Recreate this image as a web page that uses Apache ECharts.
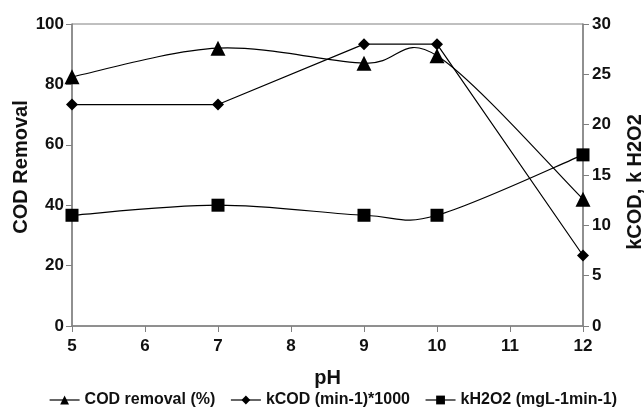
<!DOCTYPE html>
<html><head><meta charset="utf-8">
<script src="https://cdn.jsdelivr.net/npm/echarts@6/dist/echarts.min.js"></script>
<style>html,body{margin:0;padding:0;background:#fff}#c{width:644px;height:417px}</style>
</head><body><div id="c"></div>
<script>
const pH = [5, 7, 9, 10, 12];
const codRemoval = [82.5, 92, 87, 89.5, 42];
const kCOD = [22, 22, 28, 28, 7];
const kH2O2 = [11, 12, 11, 11, 17];
const xTicks = [5, 6, 7, 8, 9, 10, 11, 12];
const seriesNames = ['COD removal (%)', 'kCOD (min-1)*1000', 'kH2O2 (mgL-1min-1)'];

const FONT = 'Liberation Sans';
const pair = (ys) => pH.map((x, i) => [x, ys[i]]);
const axisCol = '#808080';
const lbl = {fontFamily: FONT, fontWeight: 'bold', fontSize: 17, color: '#111'};
const nm = {fontFamily: FONT, fontWeight: 'bold', fontSize: 20, color: '#111'};
const lineCol = '#000';

// Excel-like Catmull-Rom smoothed curve through the data points, in pixel space via api.coord
function smoothCurve(ys, yAxisIndex) {
  return {
    type: 'custom', yAxisIndex: yAxisIndex, data: pair(ys), z: 1, silent: true,
    renderItem: function (params, api) {
      if (params.dataIndex !== 0) return null;
      const P = pH.map((x, i) => api.coord([x, ys[i]]));
      const n = P.length;
      let d = 'M' + P[0][0] + ' ' + P[0][1];
      for (let i = 0; i < n - 1; i++) {
        const p0 = P[Math.max(i - 1, 0)], p1 = P[i], p2 = P[i + 1], p3 = P[Math.min(i + 2, n - 1)];
        const c1 = [p1[0] + (p2[0] - p0[0]) / 6, p1[1] + (p2[1] - p0[1]) / 6];
        const c2 = [p2[0] - (p3[0] - p1[0]) / 6, p2[1] - (p3[1] - p1[1]) / 6];
        d += ' C' + c1[0] + ' ' + c1[1] + ' ' + c2[0] + ' ' + c2[1] + ' ' + p2[0] + ' ' + p2[1];
      }
      return {type: 'path', shape: {pathData: d}, style: {fill: null, stroke: lineCol, lineWidth: 1.2}};
    }
  };
}

const legendLine = {color: lineCol, width: 1.2, opacity: 1};

const chart = echarts.init(document.getElementById('c'));
chart.setOption({
  animation: false,
  grid: {left: 72, right: 61, top: 24, bottom: 91, show: true, borderColor: axisCol, borderWidth: 1,
         containLabel: false, outerBoundsMode: 'none'},
  legend: {
    bottom: 4, left: 44, itemWidth: 30, itemHeight: 11, itemGap: 15,
    textStyle: {fontFamily: FONT, fontWeight: 'bold', fontSize: 16, color: '#111'},
    data: seriesNames.map(n => ({name: n, lineStyle: legendLine}))
  },
  xAxis: {
    type: 'value', min: xTicks[0], max: xTicks[xTicks.length - 1], interval: 1,
    name: 'pH', nameLocation: 'middle', nameGap: 42, nameTextStyle: nm, nameMoveOverlap: false,
    axisLine: {lineStyle: {color: axisCol, width: 1.5}},
    axisTick: {length: 6, lineStyle: {color: axisCol}},
    axisLabel: Object.assign({margin: 12}, lbl),
    splitLine: {show: false}
  },
  yAxis: [{
    type: 'value', min: 0, max: 100, interval: 20,
    name: 'COD Removal', nameLocation: 'middle', nameGap: 41, nameRotate: 90, nameMoveOverlap: false,
    nameTextStyle: Object.assign({padding: [0, 0, 0, 16]}, nm),
    axisLine: {show: true, lineStyle: {color: axisCol, width: 1.5}},
    axisTick: {show: true, length: 6, lineStyle: {color: axisCol}},
    axisLabel: Object.assign({margin: 8}, lbl),
    splitLine: {show: false}
  }, {
    type: 'value', min: 0, max: 30, interval: 5, position: 'right',
    name: 'kCOD, k H2O2', nameLocation: 'middle', nameGap: 42, nameRotate: 90, nameMoveOverlap: false,
    nameTextStyle: Object.assign({padding: [0, 14, 0, 0]}, nm),
    axisLine: {show: true, lineStyle: {color: axisCol, width: 1.5}},
    axisTick: {show: true, length: 6, lineStyle: {color: axisCol}},
    axisLabel: Object.assign({margin: 9}, lbl),
    splitLine: {show: false}
  }],
  series: [{
    name: seriesNames[0], type: 'line', yAxisIndex: 0, data: pair(codRemoval), z: 3,
    symbol: 'triangle', symbolSize: 15,
    lineStyle: {color: lineCol, width: 1.2, opacity: 0}, itemStyle: {color: lineCol}
  }, {
    name: seriesNames[1], type: 'line', yAxisIndex: 1, data: pair(kCOD), z: 3,
    smooth: false, symbol: 'diamond', symbolSize: 12,
    lineStyle: {color: lineCol, width: 1.2}, itemStyle: {color: lineCol}
  }, {
    name: seriesNames[2], type: 'line', yAxisIndex: 1, data: pair(kH2O2), z: 3,
    symbol: 'rect', symbolSize: 13,
    lineStyle: {color: lineCol, width: 1.2, opacity: 0}, itemStyle: {color: lineCol}
  },
  smoothCurve(codRemoval, 0),
  smoothCurve(kH2O2, 1)]
});
</script></body></html>
